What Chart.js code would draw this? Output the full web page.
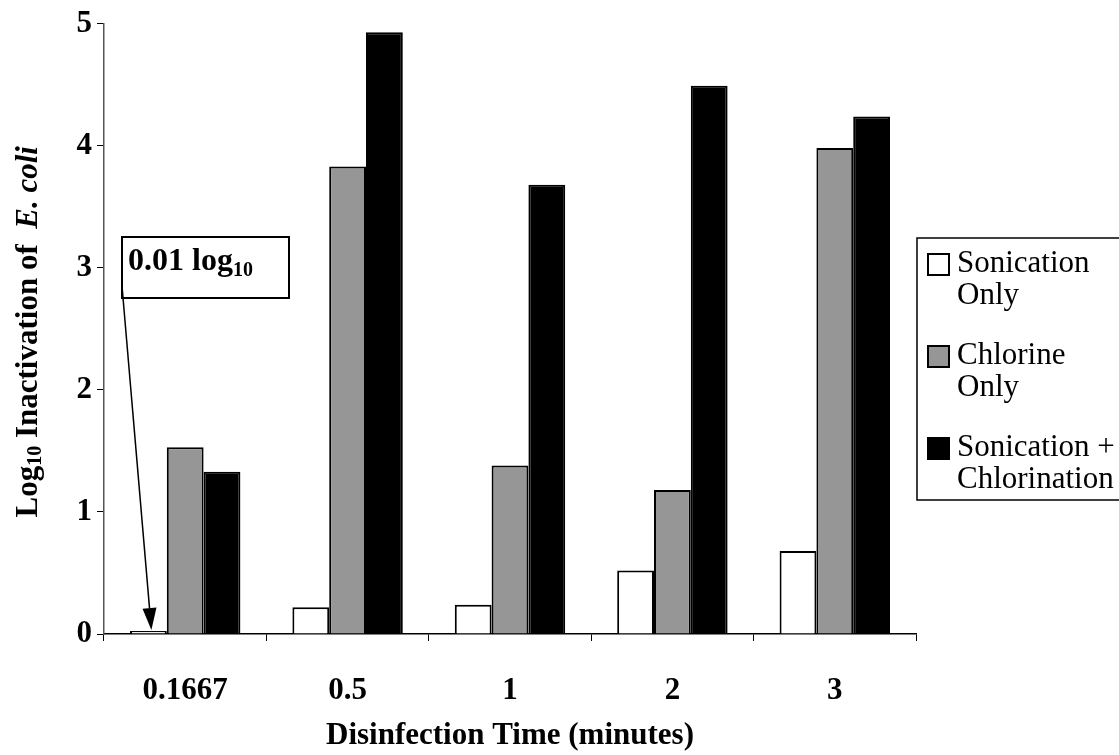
<!DOCTYPE html>
<html><head><meta charset="utf-8">
<script src="https://cdn.jsdelivr.net/npm/chart.js@4/dist/chart.umd.min.js"></script>
<style>html,body{margin:0;padding:0;background:#fff;}#wrap{width:1119px;height:755px;}</style>
</head><body><div id="wrap"><canvas id="c" width="1119" height="755"></canvas></div>
<script>
const categories = ["0.1667", "0.5", "1", "2", "3"];
const sonicationOnly = [0.01, 0.22, 0.24, 0.52, 0.68];
const chlorineOnly = [1.53, 3.83, 1.38, 1.18, 3.98];
const sonicationChlorination = [1.33, 4.93, 3.68, 4.49, 4.24];
const seriesNames = [["Sonication", "Only"], ["Chlorine", "Only"], ["Sonication +", "Chlorination"]];
const seriesColors = ["#ffffff", "#969696", "#000000"];
const yTicks = [0, 1, 2, 3, 4, 5];
const xTitle = "Disinfection Time (minutes)";
const yTitleParts = ["Log", "10", " Inactivation of  ", "E. coli"];
const annotationParts = ["0.01 log", "10"];

const SERIF = '"Liberation Serif", "Times New Roman", serif';

const yTitlePlugin = {
  id: 'yTitle',
  afterDraw(chart) {
    const ctx = chart.ctx, a = chart.chartArea;
    const segs = [
      {t: yTitleParts[0], f: 'bold 31px ' + SERIF, dy: 0},
      {t: yTitleParts[1], f: 'bold 20px ' + SERIF, dy: 7},
      {t: yTitleParts[2], f: 'bold 31px ' + SERIF, dy: 0},
      {t: yTitleParts[3], f: 'italic bold 31px ' + SERIF, dy: 0}
    ];
    ctx.save();
    let total = 0;
    segs.forEach(s => { ctx.font = s.f; s.w = ctx.measureText(s.t).width; total += s.w; });
    ctx.translate(29, (a.top + a.bottom) / 2 + 3);
    ctx.rotate(-Math.PI / 2);
    ctx.fillStyle = '#000';
    ctx.textBaseline = 'middle';
    ctx.textAlign = 'left';
    let x = -total / 2;
    segs.forEach(s => { ctx.font = s.f; ctx.fillText(s.t, x, s.dy); x += s.w; });
    ctx.restore();
  }
};

const legendPlugin = {
  id: 'boxLegend',
  afterDraw(chart) {
    const ctx = chart.ctx;
    ctx.save();
    ctx.strokeStyle = '#000';
    ctx.lineWidth = 1.5;
    ctx.strokeRect(917, 238, 215, 262);
    ctx.font = '31px ' + SERIF;
    ctx.textBaseline = 'middle';
    ctx.textAlign = 'left';
    chart.data.datasets.forEach((ds, i) => {
      const y0 = 264 + i * 92;
      ctx.fillStyle = ds.backgroundColor;
      ctx.fillRect(928, y0 - 10, 21, 21);
      ctx.lineWidth = 2;
      ctx.strokeRect(928, y0 - 10, 21, 21);
      ctx.fillStyle = '#000';
      seriesNames[i].forEach((line, j) => ctx.fillText(line, 957, y0 + j * 32));
    });
    ctx.restore();
  }
};

const annotationPlugin = {
  id: 'note',
  afterDraw(chart) {
    const ctx = chart.ctx;
    const el = chart.getDatasetMeta(0).data[0];
    ctx.save();
    ctx.fillStyle = '#fff';
    ctx.fillRect(122, 237, 167, 61);
    ctx.strokeStyle = '#000';
    ctx.lineWidth = 2;
    ctx.strokeRect(122, 237, 167, 61);
    ctx.fillStyle = '#000';
    ctx.textBaseline = 'alphabetic';
    ctx.font = 'bold 32px ' + SERIF;
    ctx.fillText(annotationParts[0], 128, 270);
    const w = ctx.measureText(annotationParts[0]).width;
    ctx.font = 'bold 20px ' + SERIF;
    ctx.fillText(annotationParts[1], 128 + w, 276);
    // arrow
    const sx = 122, sy = 286;
    const tx = el.x + 3, ty = el.y - 1;
    const ang = Math.atan2(ty - sy, tx - sx);
    const L = 22, W = 7;
    const bx = tx - L * Math.cos(ang), by = ty - L * Math.sin(ang);
    ctx.lineWidth = 1.5;
    ctx.beginPath(); ctx.moveTo(sx, sy); ctx.lineTo(bx, by); ctx.stroke();
    ctx.beginPath();
    ctx.moveTo(tx, ty);
    ctx.lineTo(bx + W * Math.sin(ang), by - W * Math.cos(ang));
    ctx.lineTo(bx - W * Math.sin(ang), by + W * Math.cos(ang));
    ctx.closePath(); ctx.fill();
    ctx.restore();
  }
};

const dsCommon = {borderColor: '#000', borderWidth: 2, borderSkipped: 'bottom', barPercentage: 1.0, categoryPercentage: 0.68};

new Chart(document.getElementById('c'), {
  type: 'bar',
  data: {
    labels: categories,
    datasets: [
      Object.assign({label: seriesNames[0].join(' '), data: sonicationOnly, backgroundColor: seriesColors[0], minBarLength: 3}, dsCommon),
      Object.assign({label: seriesNames[1].join(' '), data: chlorineOnly, backgroundColor: seriesColors[1]}, dsCommon),
      Object.assign({label: seriesNames[2].join(' '), data: sonicationChlorination, backgroundColor: seriesColors[2]}, dsCommon)
    ]
  },
  options: {
    responsive: false,
    devicePixelRatio: 1,
    animation: false,
    layout: {padding: {top: 22, right: 203, left: 0, bottom: 0}},
    plugins: {legend: {display: false}, tooltip: {enabled: false}},
    scales: {
      x: {
        grid: {display: true, drawOnChartArea: false, drawTicks: true, tickLength: 7, color: '#000', lineWidth: 1, offset: true},
        border: {display: true, color: '#000', width: 1.5},
        ticks: {color: '#000', font: {family: SERIF, size: 31, weight: 'bold'}, padding: 31, maxRotation: 0},
        title: {display: true, text: xTitle, color: '#000', font: {family: SERIF, size: 31, weight: 'bold'}, padding: {top: 0, bottom: 0}},
        afterFit(s) { s.height = 121; }
      },
      y: {
        min: 0, max: 5,
        grid: {display: true, drawOnChartArea: false, drawTicks: true, tickLength: 7, color: '#000', lineWidth: 1},
        border: {display: true, color: '#555', width: 1.5},
        ticks: {color: '#000', font: {family: SERIF, size: 31, weight: 'bold'}, padding: 5, stepSize: 1},
        afterBuildTicks(s) { s.ticks = yTicks.map(v => ({value: v})); },
        afterFit(s) { s.width = 104; }
      }
    }
  },
  plugins: [yTitlePlugin, legendPlugin, annotationPlugin]
});
</script></body></html>
